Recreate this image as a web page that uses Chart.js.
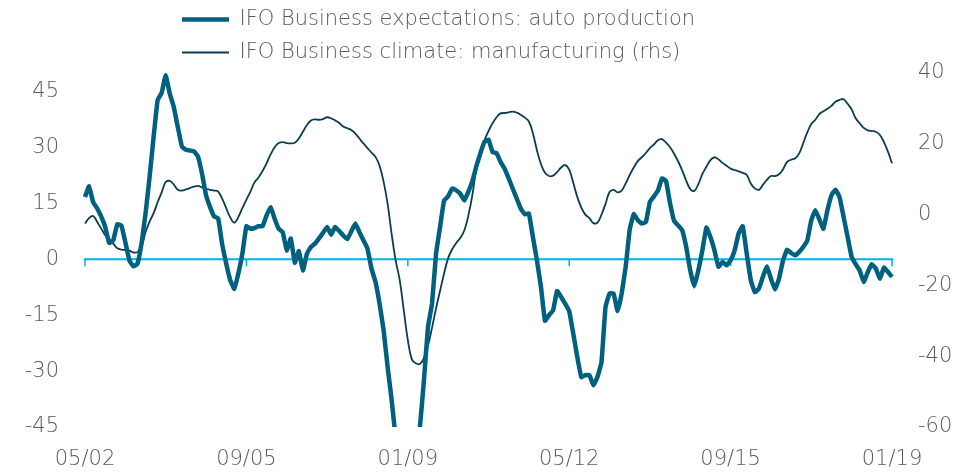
<!DOCTYPE html>
<html><head><meta charset="utf-8">
<script src="https://cdn.jsdelivr.net/npm/chart.js@4.4.1/dist/chart.umd.min.js"></script>
<style>html,body{margin:0;padding:0;background:#fff;}#wrap{width:977px;height:474px;}</style>
</head><body><div id="wrap"><canvas id="c" width="977" height="474"></canvas></div>
<script>
// Monthly categories 05/02 .. 01/19
const startYear = 2002, startMonth = 5, nMonths = 201;
const categories = [];
for (let k = 0; k < nMonths; k++) {
  const m = (startMonth - 1 + k) % 12 + 1;
  const y = startYear + Math.floor((startMonth - 1 + k) / 12);
  categories.push(String(m).padStart(2, '0') + '/' + String(y % 100).padStart(2, '0'));
}
const shownLabels = ['05/02', '09/05', '01/09', '05/12', '09/15', '01/19'];
const leftTicks = [-45, -30, -15, 0, 15, 30, 45];
const rightTicks = [-60, -40, -20, 0, 20, 40];

const autoExpectations = [
16.7,19.6,15.4,13.7,11.5,8.7,4.4,5.1,9.4,9.1,
4.6,-0.3,-1.9,-1.2,4.2,12.3,22,32.8,42.7,44.7,
49.4,44.5,40.9,35.5,30.3,29.4,29.2,29.0,27.6,23,
17.2,14,11.5,11,4.0,-1.2,-5.6,-7.9,-3.8,1.5,
8.9,8.2,8.4,8.9,8.9,11.8,14,10.9,8.2,7.3,
2.4,5.6,-0.9,2.2,-3,1.5,3.3,4.2,5.6,7.1,
8.7,6.6,8.7,7.6,6.4,5.4,7.5,9.6,7.3,5.1,
2.9,-2.5,-6.1,-11.9,-19,-28.9,-37.8,-48,-56,-60,
-61,-58,-52,-45,-32.5,-18.2,-11.9,1.5,8.7,15.8,
16.9,19,18.5,17.6,15.8,18.1,21,25,28.5,31.5,
32.1,28.8,28.5,26.1,24.3,21.7,19,16.3,13.6,12.1,
12.3,6,-0.3,-7.4,-16.5,-15,-13.7,-8.5,-10.1,-11.9,
-13.9,-19.9,-26.2,-31.6,-31.1,-31.1,-33.8,-31.6,-27.6,-12.8,
-9.2,-9.2,-13.9,-9.2,-2,8,12.1,10.5,9.6,10,
15.4,16.9,18.5,21.7,21,15,10.3,9.1,7.8,3.3,
-3,-7.2,-3,2.4,8.5,6,2.4,-2,-0.7,-1.6,
-0.3,2.4,7,8.9,1.5,-5.6,-8.8,-7.9,-4.7,-1.9,
-5.2,-8.1,-5.2,-0.3,2.6,1.7,1.1,2,3.3,5,
10.5,13.2,10.7,8.2,13.2,17.2,18.7,16.7,11.4,6,
0.6,-1.3,-3,-6.1,-3.4,-1.3,-2.5,-5.2,-2.2,-3.4,
-4.7
];

const manufacturingClimate = [
-2.5,-1,-0.4,-2,-3.9,-5.8,-6.9,-8.2,-9.5,-9.9,
-10,-10.2,-10.7,-10.6,-9,-5,-2,0.4,3.5,6.3,
9.2,9.5,8.5,7.0,6.8,7.1,7.5,7.9,8.1,7.7,
7.3,7.0,6.8,6.5,4.5,1.8,-0.8,-2.3,-0.7,1.8,
4.2,6.5,9.1,10.5,12.3,14.5,17,19,20.2,20.5,
20.2,20.1,20.3,21.5,23.4,25.3,26.6,26.9,26.8,27.0,
27.5,27.2,26.6,25.9,24.9,24.4,23.9,22.9,21.5,20.1,
18.8,17.5,16.3,13.8,9.3,3,-5.5,-13,-18.5,-27,
-35.4,-40.9,-42,-42.2,-40.5,-37,-32,-26.5,-21.5,-16.6,
-12.3,-9.8,-8,-6.6,-4.5,-0.3,5.5,13,17,21,
23.6,25.8,27.5,28.6,28.7,28.9,29.1,28.8,28.2,27.4,
26.3,23,18.2,14.3,11.8,10.9,11,12,13.3,14,
12.7,9,5,2,0,-1,-2.4,-2.3,0,3,
6.4,7,6.3,6.8,8.8,11.2,13.3,15.1,16.2,17.4,
18.8,19.8,21,21.3,20.3,19,17.2,15,12.5,9.6,
7.2,6.7,8.6,11.4,13.5,15.4,16.2,15.6,14.6,13.8,
13,12.6,12.2,11.8,11.2,8.8,7.4,7.0,8.4,9.8,
10.9,10.9,11.4,12.8,14.9,15.5,15.9,17.3,20.2,23.2,
25.6,26.8,28.4,29.2,29.9,30.7,31.9,32.4,32.6,31.3,
29.7,27.2,25.8,24.5,23.8,23.6,23.4,22.5,20.5,17.8,
14.5
];

const seriesNames = ['IFO Business expectations: auto production', 'IFO Business climate: manufacturing (rhs)'];

const FONT = {family: '"DejaVu Sans", sans-serif', size: 21, weight: '300'};
const TXT = '#5a5a5a';

const zeroLine = {
  id: 'zeroLine',
  beforeDatasetsDraw(chart) {
    const xs = chart.scales.x, ys = chart.scales.yL, ctx = chart.ctx;
    const py = ys.getPixelForValue(0);
    const x0 = xs.getPixelForValue(0), x1 = xs.getPixelForValue(categories.length - 1);
    ctx.save();
    ctx.strokeStyle = '#00b0f0';
    ctx.lineWidth = 2;
    ctx.beginPath();
    ctx.moveTo(x0 - 1, py); ctx.lineTo(x1 + 1, py);
    ctx.stroke();
    ctx.lineWidth = 1.5;
    ctx.beginPath();
    categories.forEach((c, i) => {
      if (shownLabels.includes(c)) {
        const px = xs.getPixelForValue(i);
        ctx.moveTo(px, py); ctx.lineTo(px, py + 7);
      }
    });
    ctx.stroke();
    ctx.restore();
  }
};

const legendPlace = {
  id: 'legendPlace',
  beforeLayout(chart) {
    const lg = chart.legend;
    if (!lg || lg._placed) return;
    lg._placed = true;
    const fit = lg.fit;
    lg.fit = function () { this.maxWidth = 600; fit.call(this); this.height = 73; };
    const draw = lg.draw;
    lg.draw = function () {
      const c = this.ctx; c.save(); c.translate(170, -3); draw.apply(this, arguments); c.restore();
    };
  }
};

new Chart(document.getElementById('c'), {
  type: 'line',
  data: {
    labels: categories,
    datasets: [
      {label: seriesNames[0], data: autoExpectations, yAxisID: 'yL', borderColor: '#00607f', backgroundColor: '#00607f',
       borderWidth: 4.5, pointRadius: 0, tension: 0.1, fill: false},
      {label: seriesNames[1], data: manufacturingClimate, yAxisID: 'yR', borderColor: '#0b3c52', backgroundColor: '#0b3c52',
       borderWidth: 1.8, pointRadius: 0, tension: 0.4, fill: false}
    ]
  },
  options: {
    responsive: false, animation: false, devicePixelRatio: 1,
    layout: {padding: {left: 0, right: 0, top: 0, bottom: 0}},
    plugins: {
      legend: {position: 'top', align: 'start',
        labels: {usePointStyle: true, pointStyle: 'line', pointStyleWidth: 47, padding: 12, color: TXT, font: FONT}},
      tooltip: {enabled: false}
    },
    scales: {
      x: {
        grid: {display: false, drawTicks: false}, border: {display: false},
        ticks: {autoSkip: false, maxRotation: 0, minRotation: 0, padding: 20, color: TXT, font: FONT,
          callback: (v, i) => shownLabels.includes(categories[i]) ? categories[i] : ''},
        afterFit(s) { s.height = 47; }
      },
      yL: {
        position: 'left', min: -45, max: 50,
        grid: {display: false, drawTicks: false}, border: {display: false},
        ticks: {stepSize: 15, padding: 26, color: TXT, font: FONT},
        afterBuildTicks(s) { s.ticks = leftTicks.map(v => ({value: v})); },
        afterFit(s) { s.width = 85; }
      },
      yR: {
        position: 'right', min: -60, max: 40,
        grid: {display: false, drawTicks: false}, border: {display: false},
        ticks: {stepSize: 20, padding: 26, color: TXT, font: FONT},
        afterBuildTicks(s) { s.ticks = rightTicks.map(v => ({value: v})); },
        afterFit(s) { s.width = 85; }
      }
    }
  },
  plugins: [zeroLine, legendPlace]
});
</script></body></html>
